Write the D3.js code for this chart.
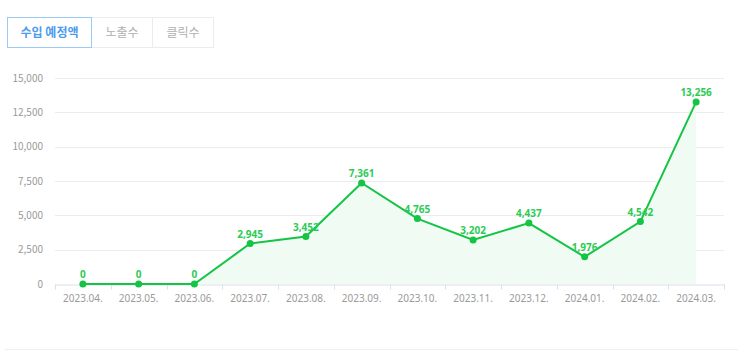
<!DOCTYPE html>
<html>
<head>
<meta charset="utf-8">
<script src="https://cdn.jsdelivr.net/npm/d3@7"></script>
<style>
  body { margin: 0; background: #fff; font-family: "Noto Sans CJK KR", "Noto Sans", sans-serif; }
</style>
</head>
<body>
<div id="chart"></div>
<script>
const width = 743;
const height = 353;
const margin = { top: 78, right: 19, bottom: 69, left: 55 };

const tabs = ["수입 예정액", "노출수", "클릭수"];
const months = ["2023.04.", "2023.05.", "2023.06.", "2023.07.", "2023.08.", "2023.09.",
    "2023.10.", "2023.11.", "2023.12.", "2024.01.", "2024.02.", "2024.03."];
const revenue = [0, 0, 0, 2945, 3452, 7361, 4765, 3202, 4437, 1976, 4542, 13256];
const yTicks = [0, 2500, 5000, 7500, 10000, 12500, 15000];

const svg = d3.select("#chart")
    .append("svg")
    .attr("width", width)
    .attr("height", height);

// tab buttons
const tabX = [7.5, 91.5, 152.5, 213.5];
tabs.forEach((t, i) => {
    svg.append("rect")
        .attr("x", tabX[i])
        .attr("y", 17.5)
        .attr("width", tabX[i + 1] - tabX[i])
        .attr("height", 30)
        .attr("fill", "#fff")
        .attr("stroke", i === 0 ? "#9ccaf7" : "#ececec");
    svg.append("text")
        .attr("x", (tabX[i] + tabX[i + 1]) / 2)
        .attr("y", 37)
        .attr("text-anchor", "middle")
        .style("font-size", "12px")
        .style("font-weight", i === 0 ? "bold" : "400")
        .style("fill", i === 0 ? "#4b9bf0" : "#b0b0b0")
        .text(t);
});
// redraw active border on top
svg.append("rect")
    .attr("x", tabX[0]).attr("y", 17.5)
    .attr("width", tabX[1] - tabX[0]).attr("height", 30)
    .attr("fill", "none").attr("stroke", "#9ccaf7");

const x = d3.scaleBand()
    .domain(months)
    .range([margin.left, width - margin.right]);
const y = d3.scaleLinear()
    .domain([0, 15000])
    .range([height - margin.bottom, margin.top]);

// grid
svg.append("g")
    .selectAll("line")
    .data(yTicks.slice(1))
    .join("line")
    .attr("x1", margin.left)
    .attr("x2", width - margin.right)
    .attr("y1", d => Math.round(y(d)) + 0.5)
    .attr("y2", d => Math.round(y(d)) + 0.5)
    .attr("stroke", "#ececec");

// y labels
svg.append("g")
    .selectAll("text")
    .data(yTicks)
    .join("text")
    .attr("x", 43)
    .attr("y", d => y(d) + 3.5)
    .attr("text-anchor", "end")
    .style("font-size", "10px")
    .style("fill", "#9a9a9a")
    .text(d => d3.format(",")(d));

// area + line
const cx = d => x(d) + x.bandwidth() / 2;
const pts = months.map((m, i) => ({ m, v: revenue[i] }));

svg.append("path")
    .datum(pts)
    .attr("fill", "#f0fbf3")
    .attr("d", d3.area().x(d => cx(d.m)).y0(y(0)).y1(d => y(d.v)));

// x axis
const xAxis = svg.append("g")
    .attr("transform", `translate(0,${Math.round(y(0)) + 0.5})`)
    .call(d3.axisBottom(x).tickSize(5).tickSizeOuter(5));
xAxis.select(".domain").attr("stroke", "#d9e1ec");
xAxis.selectAll(".tick line").remove();
xAxis.selectAll(".tick text")
    .attr("dy", "0.9em")
    .style("font-size", "10px")
    .style("font-family", "'Noto Sans', sans-serif")
    .style("fill", "#9a9a9a");
xAxis.selectAll(".bound")
    .data(d3.range(months.length + 1))
    .join("line")
    .attr("x1", i => Math.round(margin.left + i * x.step()) + 0.5)
    .attr("x2", i => Math.round(margin.left + i * x.step()) + 0.5)
    .attr("y1", 0)
    .attr("y2", 5)
    .attr("stroke", "#d9e1ec");

svg.append("path")
    .datum(pts)
    .attr("fill", "none")
    .attr("stroke", "#14c445")
    .attr("stroke-width", 2)
    .attr("d", d3.line().x(d => cx(d.m)).y(d => y(d.v)));

svg.append("g")
    .selectAll("circle")
    .data(pts)
    .join("circle")
    .attr("cx", d => cx(d.m))
    .attr("cy", d => y(d.v))
    .attr("r", 3.5)
    .attr("fill", "#14c445");

svg.append("g")
    .selectAll("text")
    .data(pts)
    .join("text")
    .attr("x", d => cx(d.m))
    .attr("y", d => y(d.v) - 6)
    .attr("text-anchor", "middle")
    .style("font-size", "10px")
    .style("font-weight", "bold")
    .style("font-family", "'Noto Sans', sans-serif")
    .style("fill", "#2ccb55")
    .text(d => d3.format(",")(d.v));

// bottom separator
svg.append("line")
    .attr("x1", 5).attr("x2", 738)
    .attr("y1", 349.5).attr("y2", 349.5)
    .attr("stroke", "#efefef");
</script>
</body>
</html>
